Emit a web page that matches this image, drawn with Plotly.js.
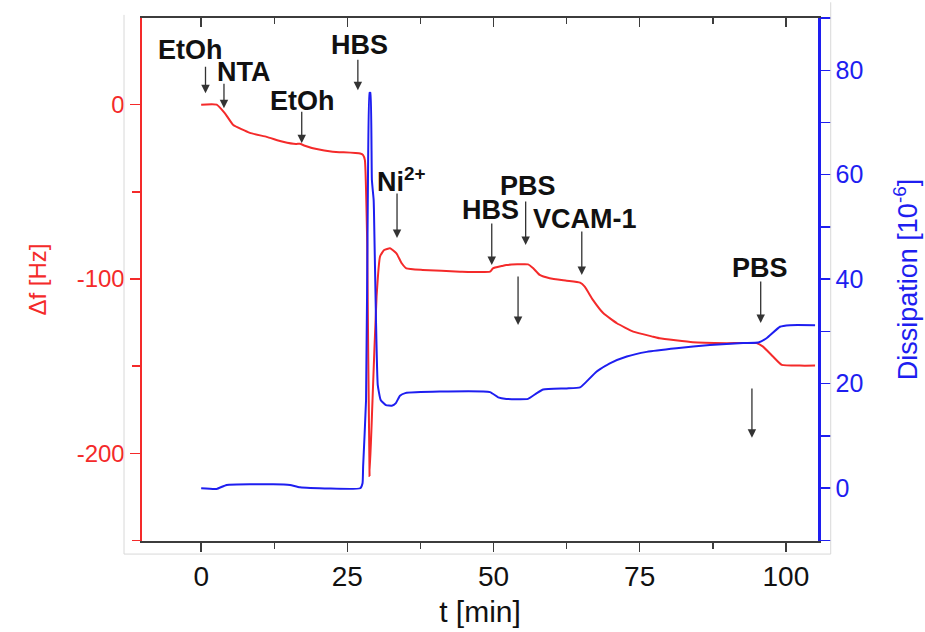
<!DOCTYPE html>
<html>
<head>
<meta charset="utf-8">
<script src="https://cdn.plot.ly/plotly-3.0.1.min.js"></script>
<style>html,body{margin:0;padding:0;background:#fff;}#chart{width:925px;height:632px;}</style>
</head>
<body>
<div id="chart"></div>
<script>
// Δf (left axis, Hz)
const timeDf = [0, 2.65, 4.07, 5.49, 8.34, 11.2, 14.0, 16.2, 16.9, 17.6, 19.75, 22.5, 27.2, 27.7, 28.0, 28.4, 28.8, 29.3, 30.0, 30.6, 31.3, 32.3, 33.4, 34.3, 35.1, 37.9, 44.3, 49.4, 49.9, 51.4, 52.2, 55.9, 56.8, 57.9, 59.6, 62.5, 64.8, 65.6, 67.0, 68.8, 71.1, 73.9, 77.3, 78.4, 84.1, 89.9, 95.0, 96.1, 97.8, 99.3, 102.4, 105.0];
const deltaF = [0, 0, -5.0, -11.7, -16.2, -18.5, -21.3, -22.6, -22.4, -23.4, -25.5, -27.0, -28.0, -28.9, -31.8, -80, -213, -170, -110, -87, -83.4, -82.4, -85.3, -91.0, -93.9, -94.8, -95.8, -95.8, -93.9, -92.6, -92.0, -91.6, -93.9, -97.7, -99.6, -101.0, -102.1, -104.4, -112.0, -119.7, -125.4, -130.2, -133.1, -134.0, -136.3, -136.8, -136.8, -138.8, -144.5, -149.3, -149.7, -149.7];

// Dissipation (right axis, 10^-6)
const timeD = [0, 2.65, 4.36, 12.3, 15.2, 16.9, 27.2, 27.6, 27.7, 28.2, 28.5, 28.8, 28.95, 29.2, 29.5, 29.55, 29.9, 30.2, 30.7, 31.6, 32.6, 33.3, 34.0, 34.9, 40.8, 49.4, 50.8, 52.2, 55.9, 57.4, 58.5, 62.5, 64.8, 65.9, 67.6, 69.9, 72.8, 76.2, 81.3, 87.0, 92.7, 95.3, 96.7, 99.0, 100.7, 105.0];
const dissipation = [0, -0.13, 0.63, 0.77, 0.63, 0.19, 0, 0.96, 4.1, 16.9, 55.2, 75.7, 75.7, 59.0, 55.2, 53.3, 32.2, 19.8, 16.9, 15.9, 15.8, 16.3, 17.7, 18.2, 18.5, 18.4, 17.4, 17.1, 17.1, 18.2, 18.9, 19.1, 19.3, 20.4, 22.3, 23.9, 25.2, 26.1, 26.8, 27.4, 27.8, 27.9, 28.7, 30.9, 31.2, 31.2];

// Axis tick labels
const dfTickVals = [-200, -100, 0];
const dfTickText = ['-200', '-100', '0'];

// Event labels and arrows (in Δf axis units)
const labelText = ['EtOh', 'NTA', 'EtOh', 'HBS', 'Ni<sup>2+</sup>', 'HBS', 'PBS', 'VCAM-1', 'PBS'];
const labelX = [-1.9, 7.3, 17.4, 27.0, 34.3, 49.5, 55.9, 65.6, 95.5];
const labelY = [31.2, 18.6, 2.0, 34.1, -43.3, -60.5, -46.5, -65.6, -93.7];
const arrowX = [0.74, 3.9, 17.2, 26.8, 33.5, 49.7, 55.5, 65.1, 54.2, 95.7, 94.2];
const arrowTip = [6.6, -2.0, -22.1, 8.3, -76.5, -92.0, -80.5, -97.7, -126.4, -125.2, -191.1];
const arrowTail = [22.6, 12.9, -3.2, 26.6, -50.1, -67.3, -54.7, -71.9, -97.7, -100.6, -161.9];

const RED = '#f42a2a';
const BLUE = '#1e1ef0';
const AXC = '#3c3c3c';
const FONT = 'Liberation Sans, Arial, sans-serif';
const NARROW = 'Liberation Sans Narrow, Arial Narrow, Liberation Sans, sans-serif';

const traces = [
  {x: timeDf, y: deltaF, type: 'scatter', mode: 'lines', line: {color: RED, width: 2, shape: 'spline', smoothing: 0.4}, yaxis: 'y', xaxis: 'x', hoverinfo: 'skip'},
  {x: timeD, y: dissipation, type: 'scatter', mode: 'lines', line: {color: BLUE, width: 2, shape: 'spline', smoothing: 0.4}, yaxis: 'y2', xaxis: 'x', hoverinfo: 'skip'},
  {x: [timeDf[0]], y: [deltaF[0]], type: 'scatter', mode: 'markers', marker: {opacity: 0}, xaxis: 'x2', yaxis: 'y', hoverinfo: 'skip'}
];

const annotations = [];
labelText.forEach((t, i) => annotations.push({
  x: labelX[i], y: labelY[i], xref: 'x', yref: 'y', text: t, showarrow: false,
  font: {family: FONT, size: 27, color: '#111', weight: 'bold'}, xanchor: 'center', yanchor: 'middle'
}));
arrowX.forEach((ax, i) => annotations.push({
  x: ax, y: arrowTip[i], ax: ax, ay: arrowTail[i], xref: 'x', yref: 'y', axref: 'x', ayref: 'y',
  text: '', showarrow: true, arrowhead: 2, arrowsize: 1.3, arrowwidth: 1.3, arrowcolor: '#333', standoff: 0, startstandoff: 0
}));

const layout = {
  width: 925, height: 632,
  margin: {l: 142, r: 107, t: 18, b: 91},
  paper_bgcolor: '#fff', plot_bgcolor: '#fff',
  showlegend: false,
  xaxis: {
    range: [-10.12, 105.5], showgrid: false, zeroline: false,
    showline: true, linecolor: AXC, linewidth: 2,
    ticks: 'outside', ticklen: 9, tickwidth: 1.5, tickcolor: AXC,
    tick0: 0, dtick: 25,
    minor: {dtick: 12.5, ticks: 'outside', ticklen: 6, tickwidth: 1.5, tickcolor: AXC},
    tickfont: {family: NARROW, size: 28, color: '#111'},
    title: {text: 't [min]', font: {family: NARROW, size: 30, color: '#111'}, standoff: 10}
  },
  xaxis2: {
    overlaying: 'x', side: 'top', anchor: 'y', matches: 'x',
    range: [-10.12, 105.5], showgrid: false, zeroline: false,
    showline: true, linecolor: AXC, linewidth: 2,
    ticks: 'inside', ticklen: 9, tickwidth: 1.5, tickcolor: AXC,
    tick0: 0, dtick: 25, showticklabels: false,
    minor: {dtick: 12.5, ticks: 'inside', ticklen: 6, tickwidth: 1.5, tickcolor: AXC}
  },
  yaxis: {
    range: [-250.3, 49.7], showgrid: false, zeroline: false,
    showline: true, linecolor: RED, linewidth: 2.5,
    ticks: 'outside', ticklen: 10, tickwidth: 1.5, tickcolor: RED,
    tickmode: 'array', tickvals: dfTickVals, ticktext: dfTickText,
    minor: {tick0: 0, dtick: 50, ticks: 'outside', ticklen: 8, tickwidth: 1.5, tickcolor: RED},
    tickfont: {family: FONT, size: 24, color: RED},
    title: {text: 'Δf [Hz]', font: {family: FONT, size: 24, color: RED}, standoff: 24}
  },
  yaxis2: {
    overlaying: 'y', side: 'right', anchor: 'x',
    range: [-10.1, 90.0], showgrid: false, zeroline: false,
    showline: true, linecolor: BLUE, linewidth: 2.5,
    ticks: 'outside', ticklen: 10, tickwidth: 1.5, tickcolor: BLUE,
    tick0: 0, dtick: 20,
    minor: {dtick: 10, ticks: 'outside', ticklen: 10, tickwidth: 1.5, tickcolor: BLUE},
    tickfont: {family: FONT, size: 25, color: BLUE},
    title: {text: 'Dissipation [10<sup>-6</sup>]', font: {family: FONT, size: 27, color: BLUE}, standoff: 36}
  },
  shapes: [
    {type: 'line', xref: 'paper', yref: 'paper', x0: -0.0266, x1: -0.0266, y0: -0.025, y1: 1.006, line: {color: '#d8d8d8', width: 1}},
    {type: 'line', xref: 'paper', yref: 'paper', x0: 1.0188, x1: 1.0188, y0: -0.025, y1: 1.03, line: {color: '#d8d8d8', width: 1}},
    {type: 'line', xref: 'paper', yref: 'paper', x0: -0.0266, x1: 1.0188, y0: -0.025, y1: -0.025, line: {color: '#d8d8d8', width: 1}}
  ],
  annotations: annotations
};

Plotly.newPlot('chart', traces, layout, {staticPlot: true, displayModeBar: false});
</script>
</body>
</html>
